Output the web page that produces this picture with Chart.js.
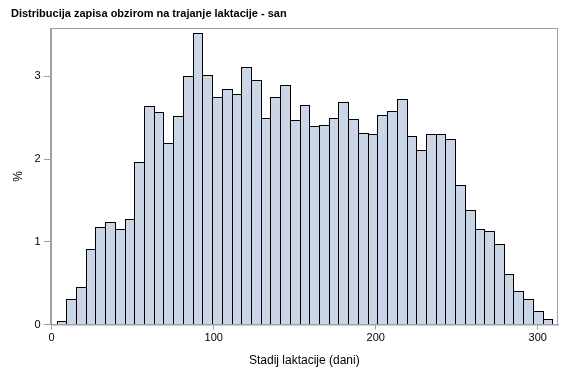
<!DOCTYPE html>
<html>
<head>
<meta charset="utf-8">
<script src="https://cdn.jsdelivr.net/npm/chart.js@4.4.1/dist/chart.umd.min.js"></script>
<style>
  html, body { margin: 0; padding: 0; background: #ffffff; }
  #wrap { width: 567px; height: 378px; position: relative; }
</style>
</head>
<body>
<div id="wrap"><canvas id="c" width="567" height="378"></canvas></div>
<script>
// Bin midpoints (days of lactation), bin width 6
const binMidpoints = [6, 12, 18, 24, 30, 36, 42, 48, 54, 60,
                      66, 72, 78, 84, 90, 96, 102, 108, 114, 120,
                      126, 132, 138, 144, 150, 156, 162, 168, 174, 180,
                      186, 192, 198, 204, 210, 216, 222, 228, 234, 240,
                      246, 252, 258, 264, 270, 276, 282, 288, 294, 300, 306];
// Percent of records per bin
const percentValues = [0.04, 0.31, 0.46, 0.91, 1.18, 1.24, 1.15, 1.28, 1.97, 2.64,
                       2.57, 2.19, 2.52, 3.00, 3.52, 3.02, 2.75, 2.84, 2.79, 3.11,
                       2.96, 2.50, 2.75, 2.89, 2.47, 2.65, 2.40, 2.41, 2.49, 2.69,
                       2.48, 2.31, 2.30, 2.53, 2.58, 2.73, 2.28, 2.11, 2.30, 2.30,
                       2.24, 1.69, 1.39, 1.16, 1.13, 0.98, 0.61, 0.41, 0.31, 0.16, 0.07];
const xTickValues = [0, 100, 200, 300];
const yTickValues = [0, 1, 2, 3];

const chartTitle = 'Distribucija zapisa obzirom na trajanje laktacije - san';
const xAxisTitle = 'Stadij laktacije (dani)';
const yAxisTitle = '%';

const points = binMidpoints.map((x, i) => ({ x: x, y: percentValues[i] }));

const frameColor = '#A0A0A0';
const fontFamily = "Arial, 'Liberation Sans', sans-serif";

const framePlugin = {
  id: 'frame',
  afterDraw(chart) {
    const a = chart.chartArea;
    const ctx = chart.ctx;
    ctx.save();
    ctx.strokeStyle = frameColor;
    ctx.lineWidth = 1;
    ctx.strokeRect(Math.round(a.left) + 0.5, Math.round(a.top) + 0.5,
                   Math.round(a.right - a.left) - 1, Math.round(a.bottom - a.top) - 0.5);
    ctx.restore();
  }
};

// Snap bar edges to whole pixels (with 1px shared outline) for crisp histogram lines
const snapBarsPlugin = {
  id: 'snapBars',
  beforeDatasetsDraw(chart) {
    const meta = chart.getDatasetMeta(0);
    meta.data.forEach(el => {
      const left = Math.round(el.x - el.width / 2);
      const right = Math.round(el.x + el.width / 2) + 1;
      el.x = (left + right) / 2;
      el.width = right - left;
      el.y = Math.round(el.y);
      el.base = Math.round(el.base);
    });
  }
};

new Chart(document.getElementById('c'), {
  type: 'bar',
  data: {
    datasets: [{
      data: points,
      backgroundColor: '#CAD5E5',
      borderColor: '#000000',
      borderWidth: 1,
      borderSkipped: 'start',
      inflateAmount: 0,
      barPercentage: 1.0,
      categoryPercentage: 1.0
    }]
  },
  options: {
    responsive: false,
    animation: false,
    devicePixelRatio: 1,
    layout: { padding: { left: 11, right: 9, top: 0, bottom: 0 } },
    plugins: {
      legend: { display: false },
      tooltip: { enabled: false },
      title: {
        display: true,
        text: chartTitle,
        align: 'start',
        color: '#000000',
        font: { family: fontFamily, size: 11, weight: 'bold' },
        padding: { top: 7, bottom: 8 }
      }
    },
    scales: {
      x: {
        type: 'linear',
        min: -0.6,
        max: 312.5,
        offset: false,
        afterFit(scale) { scale.height = 53.3; },
        afterBuildTicks(scale) { scale.ticks = xTickValues.map(v => ({ value: v })); },
        ticks: {
          includeBounds: false,
          color: '#000000',
          font: { family: fontFamily, size: 11 },
          padding: 2,
          maxRotation: 0,
          autoSkip: false
        },
        grid: {
          display: true,
          offset: false,
          drawOnChartArea: false,
          drawTicks: true,
          tickLength: 5,
          color: frameColor
        },
        border: { display: true, color: frameColor },
        title: {
          display: true,
          text: xAxisTitle,
          color: '#000000',
          font: { family: fontFamily, size: 12 },
          padding: { top: 0, bottom: 10 }
        }
      },
      y: {
        type: 'linear',
        min: 0,
        max: 3.58,
        afterFit(scale) { scale.width = 39.7; },
        afterBuildTicks(scale) { scale.ticks = yTickValues.map(v => ({ value: v })); },
        ticks: {
          includeBounds: false,
          color: '#000000',
          font: { family: fontFamily, size: 11 },
          padding: 3
        },
        grid: {
          display: true,
          offset: false,
          drawOnChartArea: false,
          drawTicks: true,
          tickLength: 7,
          color: frameColor
        },
        border: { display: true, color: frameColor },
        title: {
          display: true,
          text: yAxisTitle,
          color: '#000000',
          font: { family: fontFamily, size: 12 },
          padding: { top: 0, bottom: 0 }
        }
      }
    }
  },
  plugins: [framePlugin, snapBarsPlugin]
});
</script>
</body>
</html>
